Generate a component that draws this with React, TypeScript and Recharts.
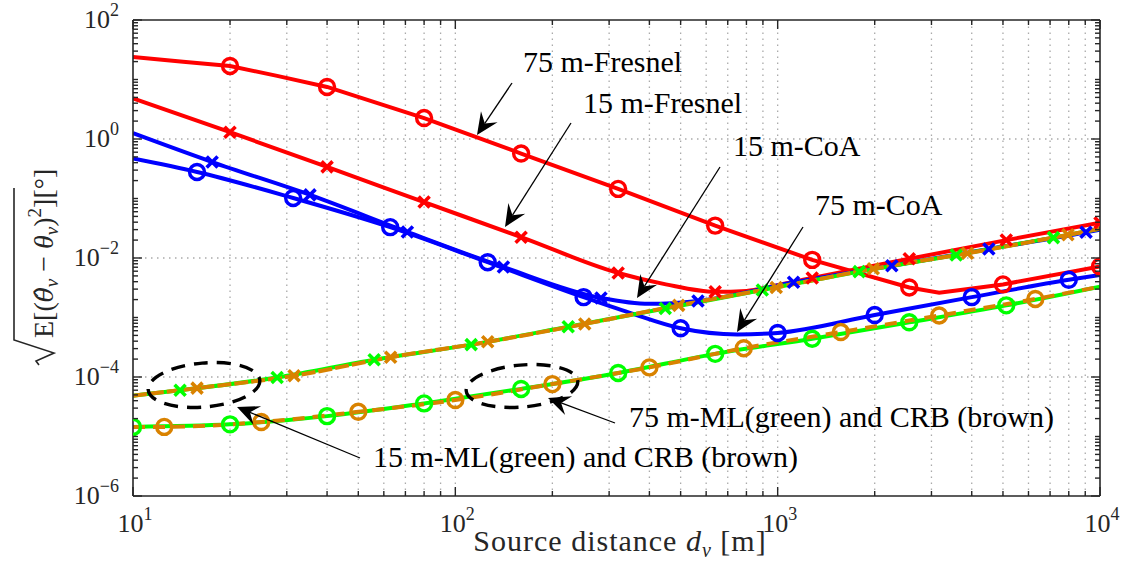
import React from 'react';
import { ComposedChart, Line, XAxis, YAxis, ReferenceLine } from 'recharts';

// ---------------- data ----------------
const fresnel75X = [10, 14.3, 20, 28, 40, 80, 160, 320, 640, 1280, 2560, 3170, 5000, 10000];
const fresnel75Y = [23.9, 19.9, 16.9, 11.5, 7.5, 2.25, 0.57, 0.145, 0.035, 0.0093, 0.0032, 0.0026, 0.0036, 0.0072];
const fresnel75Marks = [20, 40, 80, 160, 320, 640, 1280, 2560, 5000, 10000];

const fresnel15X = [10, 20, 40, 80, 160, 320, 450, 640, 800, 1000, 1280, 2560, 5120, 10000];
const fresnel15Y = [4.8, 1.3, 0.34, 0.087, 0.0224, 0.0056, 0.0036, 0.0027, 0.0028, 0.0035, 0.0046, 0.0097, 0.02, 0.039];
const fresnel15Marks = [20, 40, 80, 160, 320, 640, 1280, 2560, 5120, 10000];

const coa15X = [10, 17.6, 35.4, 71, 141, 283, 400, 566, 1120, 2260, 4520, 9050, 10000];
const coa15Y = [1.25, 0.41, 0.115, 0.0274, 0.00706, 0.00213, 0.0017, 0.0019, 0.0039, 0.0074, 0.0142, 0.027, 0.03];
const coa15Marks = [17.6, 35.4, 71, 141, 283, 566, 1120, 2260, 4520, 9050];

const coa75X = [10, 15.8, 31.4, 62.8, 126, 250, 348, 500, 750, 1000, 2000, 4000, 8000, 10000];
const coa75Y = [0.47, 0.279, 0.102, 0.033, 0.0085, 0.0022, 0.0012, 0.00066, 0.00052, 0.00055, 0.0011, 0.0022, 0.0043, 0.0052];
const coa75Marks = [15.8, 31.4, 62.8, 126, 250, 500, 1000, 2000, 4000, 8000];

const ml15X = [10, 14, 28, 56, 112, 224, 448, 896, 1790, 3580, 7170, 10000];
const ml15Y = [4.85e-5, 6.0e-5, 9.8e-5, 1.95e-4, 3.5e-4, 7.0e-4, 1.42e-3, 2.9e-3, 5.9e-3, 1.12e-2, 2.2e-2, 3.1e-2];
const ml15Marks = [14, 28, 56, 112, 224, 448, 896, 1790, 3580, 7170];

const crb15X = [10, 15.8, 31.6, 63, 126, 252, 493, 990, 1980, 3880, 7950, 10000];
const crb15Y = [4.85e-5, 6.5e-5, 1.05e-4, 2.15e-4, 3.9e-4, 7.8e-4, 1.6e-3, 3.2e-3, 6.6e-3, 1.2e-2, 2.45e-2, 3.1e-2];
const crb15Marks = [15.8, 31.6, 63, 126, 252, 493, 990, 1980, 3880, 7950];

const ml75X = [10, 20, 40, 80, 160, 320, 640, 1280, 2560, 5120, 10000];
const ml75Y = [1.45e-5, 1.6e-5, 2.2e-5, 3.6e-5, 6.3e-5, 1.17e-4, 2.45e-4, 4.4e-4, 8.3e-4, 1.6e-3, 3.3e-3];
const ml75Marks = [10, 20, 40, 80, 160, 320, 640, 1280, 2560, 5120];

const crb75X = [10, 12.5, 25, 50, 100, 200, 400, 785, 1570, 3170, 6300, 10000];
const crb75Y = [1.45e-5, 1.45e-5, 1.75e-5, 2.6e-5, 4.1e-5, 7.6e-5, 1.45e-4, 3.05e-4, 5.7e-4, 1.08e-3, 2.05e-3, 3.3e-3];
const crb75Marks = [12.5, 25, 50, 100, 200, 400, 785, 1570, 3170, 6300];

// axis ticks
const xMajor = [10, 100, 1000, 10000];
const xMajorLabels = ['1', '2', '3', '4'];
const yMajor = [1e2, 1e0, 1e-2, 1e-4, 1e-6];
const yMajorLabels = ['2', '0', '\u22122', '\u22124', '\u22126'];
const yGrid = [1e0, 1e-2, 1e-4];

const mult = [1, 2, 3, 4, 5, 6, 7, 8, 9];
const clean = (v: number) => Number(v.toPrecision(6));
const xTicks: number[] = [];
for (let k = 1; k <= 3; k++) mult.forEach((m) => xTicks.push(clean(m * Math.pow(10, k))));
xTicks.push(10000);
const yTicks: number[] = [];
for (let k = -6; k <= 1; k++) mult.forEach((m) => yTicks.push(clean(m * Math.pow(10, k))));
yTicks.push(100);
const xGrid = xTicks.filter((v) => v > 10 && v < 10000);

// ---------------- styles ----------------
const W = 1128;
const H = 569;
const PLOT_W = 967;
const PLOT_H = 476;
const AX = '#262626';
const FONT = 'Liberation Serif';
const RED = '#ff0000';
const BLUE = '#0000ff';
const GREEN = '#00ff00';
const BROWN = '#d98200';
const GRID = '#aaaaaa';
const LW = 4;

const toPts = (xs: number[], ys: number[]) => xs.map((x, i) => ({ x, y: ys[i] }));
const near = (a: number, b: number) => Math.abs(a - b) < 1e-9 * Math.max(1, Math.abs(b));

function makeDot(marks: number[], kind: 'o' | 'x', color: string) {
  return (p: any) => {
    const { cx, cy, payload, index } = p;
    const key = `dot-${index}`;
    if (cx == null || cy == null || !payload || !marks.some((m) => near(m, payload.x))) return <g key={key} />;
    if (kind === 'o') {
      return <circle key={key} cx={cx} cy={cy} r={7.5} fill="none" stroke={color} strokeWidth={3.4} />;
    }
    const s = 5.5;
    return (
      <path
        key={key}
        d={`M${cx - s},${cy - s}L${cx + s},${cy + s}M${cx - s},${cy + s}L${cx + s},${cy - s}`}
        stroke={color}
        strokeWidth={3.6}
        fill="none"
      />
    );
  };
}

function XTick(props: any) {
  const { x, y, payload } = props;
  const v = payload.value;
  const mi = xMajor.findIndex((m) => near(m, v));
  const len = mi >= 0 ? 9 : 5;
  const top = y - PLOT_H;
  return (
    <g>
      <line x1={x} y1={y} x2={x} y2={y - len} stroke={AX} strokeWidth={1.4} />
      <line x1={x} y1={top} x2={x} y2={top + len} stroke={AX} strokeWidth={1.4} />
      {mi >= 0 && (
        <text x={x + 2} y={y + 36} textAnchor="middle" fontFamily={FONT} fontSize={26} fill={AX}>
          10
          <tspan dy={-12} fontSize={18}>
            {xMajorLabels[mi]}
          </tspan>
        </text>
      )}
    </g>
  );
}

function YTick(props: any) {
  const { x, y, payload } = props;
  const v = payload.value;
  const mi = yMajor.findIndex((m) => near(m, v));
  const len = mi >= 0 ? 9 : 5;
  const right = x + PLOT_W;
  return (
    <g>
      <line x1={x} y1={y} x2={x + len} y2={y} stroke={AX} strokeWidth={1.4} />
      <line x1={right} y1={y} x2={right - len} y2={y} stroke={AX} strokeWidth={1.4} />
      {mi >= 0 && (
        <text x={x - 14} y={y + 8} textAnchor="end" fontFamily={FONT} fontSize={26} fill={AX}>
          10
          <tspan dy={-12} fontSize={18}>
            {yMajorLabels[mi]}
          </tspan>
        </text>
      )}
    </g>
  );
}

function Arrow({ x1, y1, x2, y2 }: { x1: number; y1: number; x2: number; y2: number }) {
  const dx = x2 - x1;
  const dy = y2 - y1;
  const d = Math.hypot(dx, dy);
  const ux = dx / d;
  const uy = dy / d;
  const px = -uy;
  const py = ux;
  const L = 22;
  const Wd = 10;
  const N = 14;
  const bx = x2 - ux * L;
  const by = y2 - uy * L;
  const nx = x2 - ux * N;
  const ny = y2 - uy * N;
  return (
    <g>
      <line x1={x1} y1={y1} x2={nx} y2={ny} stroke="#000" strokeWidth={1.3} />
      <polygon
        points={`${x2},${y2} ${bx + px * Wd},${by + py * Wd} ${nx},${ny} ${bx - px * Wd},${by - py * Wd}`}
        fill="#000"
      />
    </g>
  );
}

const series = [
  { key: 'f75', x: fresnel75X, y: fresnel75Y, marks: fresnel75Marks, kind: 'o' as const, color: RED, type: 'linear' as const },
  { key: 'f15', x: fresnel15X, y: fresnel15Y, marks: fresnel15Marks, kind: 'x' as const, color: RED, type: 'monotone' as const },
  { key: 'c15', x: coa15X, y: coa15Y, marks: coa15Marks, kind: 'x' as const, color: BLUE, type: 'monotone' as const },
  { key: 'c75', x: coa75X, y: coa75Y, marks: coa75Marks, kind: 'o' as const, color: BLUE, type: 'monotone' as const },
];

export default function App() {
  return (
    <div style={{ position: 'absolute', left: 0, top: 0, width: W, height: H, background: '#fff' }}>
      <ComposedChart width={W} height={H} margin={{ top: 20, right: 28, bottom: 0, left: 0 }}>
        <XAxis
          dataKey="x"
          type="number"
          scale="log"
          domain={[10, 10000]}
          allowDataOverflow
          ticks={xTicks}
          interval={0}
          tickSize={0}
          tickMargin={0}
          tickLine={false}
          tick={<XTick />}
          height={73}
          axisLine={{ stroke: AX, strokeWidth: 1.6 }}
        />
        <YAxis
          dataKey="y"
          type="number"
          scale="log"
          domain={[1e-6, 100]}
          allowDataOverflow
          ticks={yTicks}
          interval={0}
          tickSize={0}
          tickMargin={0}
          tickLine={false}
          tick={<YTick />}
          width={133}
          axisLine={{ stroke: AX, strokeWidth: 1.6 }}
        />
        {xGrid.map((v) => (
          <ReferenceLine key={`gx${v}`} x={v} stroke={GRID} strokeWidth={1.3} strokeDasharray="1.5 4.5" />
        ))}
        {yGrid.map((v) => (
          <ReferenceLine key={`gy${v}`} y={v} stroke={GRID} strokeWidth={1.3} strokeDasharray="1.5 4.5" />
        ))}
        {series.map((s) => (
          <Line
            key={s.key}
            data={toPts(s.x, s.y)}
            dataKey="y"
            type={s.type}
            stroke={s.color}
            strokeWidth={LW}
            dot={makeDot(s.marks, s.kind, s.color)}
            activeDot={false}
            isAnimationActive={false}
          />
        ))}
        <Line
          data={toPts(ml15X, ml15Y)}
          dataKey="y"
          type="monotone"
          stroke={GREEN}
          strokeWidth={LW}
          dot={makeDot(ml15Marks, 'x', GREEN)}
          activeDot={false}
          isAnimationActive={false}
        />
        <Line
          data={toPts(ml75X, ml75Y)}
          dataKey="y"
          type="monotone"
          stroke={GREEN}
          strokeWidth={LW}
          dot={makeDot(ml75Marks, 'o', GREEN)}
          activeDot={false}
          isAnimationActive={false}
        />
        <Line
          data={toPts(crb15X, crb15Y)}
          dataKey="y"
          type="monotone"
          stroke={BROWN}
          strokeWidth={LW}
          strokeDasharray="14 3"
          dot={makeDot(crb15Marks, 'x', BROWN)}
          activeDot={false}
          isAnimationActive={false}
        />
        <Line
          data={toPts(crb75X, crb75Y)}
          dataKey="y"
          type="monotone"
          stroke={BROWN}
          strokeWidth={LW}
          strokeDasharray="12 8"
          dot={makeDot(crb75Marks, 'o', BROWN)}
          activeDot={false}
          isAnimationActive={false}
        />
        <ReferenceLine y={100} stroke={AX} strokeWidth={1.6} />
        <ReferenceLine x={10000} stroke={AX} strokeWidth={1.6} />
      </ComposedChart>
      <svg
        width={W}
        height={H}
        style={{ position: 'absolute', left: 0, top: 0, pointerEvents: 'none' }}
        fontFamily={FONT}
      >
        <text x={523} y={72} fontSize={30} fill="#000">75 m-Fresnel</text>
        <Arrow x1={512} y1={83} x2={477} y2={135} />
        <text x={583} y={113} fontSize={30} fill="#000">15 m-Fresnel</text>
        <Arrow x1={571} y1={123} x2={505} y2={227} />
        <text x={733} y={156} fontSize={30} fill="#000">15 m-CoA</text>
        <Arrow x1={720} y1={167} x2={637} y2={298} />
        <text x={815} y={215} fontSize={30} fill="#000">75 m-CoA</text>
        <Arrow x1={803} y1={227} x2={737} y2={332} />
        <text x={629} y={427} fontSize={30} fill="#000">75 m-ML(green) and CRB (brown)</text>
        <Arrow x1={615} y1={423} x2={548} y2={398} />
        <text x={373} y={467} fontSize={30} fill="#000">15 m-ML(green) and CRB (brown)</text>
        <Arrow x1={360} y1={458} x2={237} y2={407} />
        <ellipse cx={204} cy={385} rx={56} ry={22} transform="rotate(-5 204 385)" fill="none" stroke="#000" strokeWidth={3.4} strokeDasharray="14 9" />
        <ellipse cx={522} cy={386} rx={56} ry={21} transform="rotate(-5 522 386)" fill="none" stroke="#000" strokeWidth={3.4} strokeDasharray="14 9" />
        <text x={620} y={551} fontSize={30} letterSpacing={1} textAnchor="middle" fill={AX}>
          Source distance <tspan fontStyle="italic">d</tspan>
          <tspan fontStyle="italic" fontSize={20} dy={6}>v</tspan>
          <tspan dy={-6}>{'  [m]'}</tspan>
        </text>
        <g>
          <path d="M14,188 L14,340 L54,353 L36,361 L39,365" fill="none" stroke={AX} strokeWidth={1.6} />
          <text transform="translate(53,338) rotate(-90)" fontSize={28} fill={AX}>
            E[(
            <tspan fontStyle="italic" fontFamily="DejaVu Serif" fontSize={25}>{'\u03b8\u0302'}</tspan>
            <tspan fontStyle="italic" fontSize={19} dy={5}>v</tspan>
            <tspan dy={-5}>{' \u2212 '}</tspan>
            <tspan fontStyle="italic">{'\u03b8'}</tspan>
            <tspan fontStyle="italic" fontSize={19} dy={5}>v</tspan>
            <tspan dy={-5}>)</tspan>
            <tspan fontSize={19} dy={-12}>2</tspan>
            <tspan dy={12}>][°]</tspan>
          </text>
        </g>
      </svg>
    </div>
  );
}
